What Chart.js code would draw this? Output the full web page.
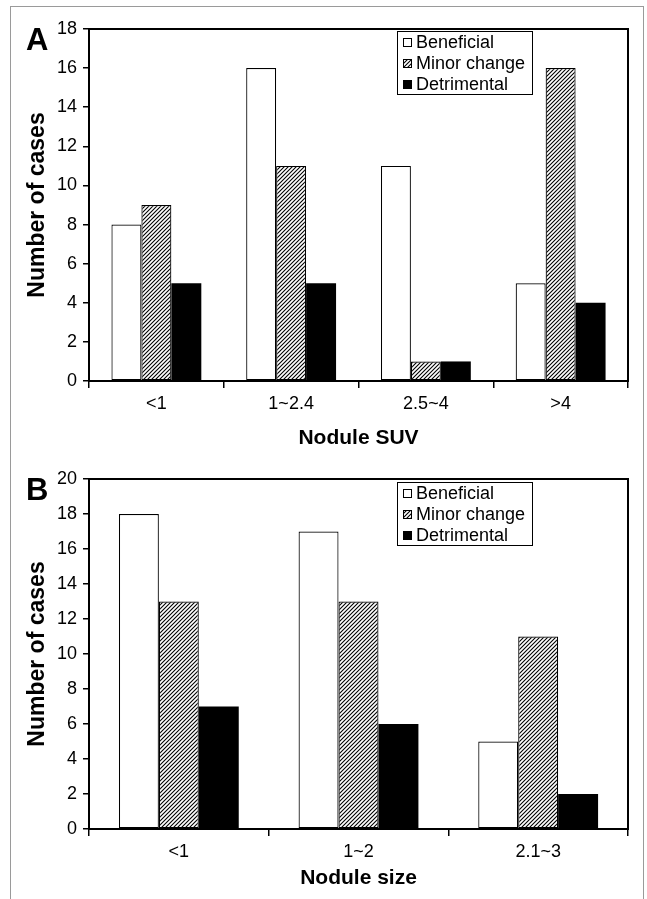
<!DOCTYPE html>
<html lang="en">
<head>
    <meta charset="UTF-8">
    <title>Nodule SUV and nodule size</title>
    <script src="https://cdn.jsdelivr.net/npm/chart.js"></script>
    <style>
        body {
            margin: 0;
            width: 647px;
            height: 899px;
            overflow: hidden;
            position: relative;
            background: #fff;
        }
        .frame {
            position: absolute;
            left: 10px;
            top: 6px;
            width: 632px;
            height: 900px;
            border: 1.5px solid #9a9a9a;
            border-bottom: none;
        }
        canvas {
            position: absolute;
            left: 0;
        }
        #chartA { top: 7px; }
        #chartB { top: 457px; }
    </style>
</head>
<body>
    <div class="frame"></div>
    <canvas id="chartA" width="647" height="444"></canvas>
    <canvas id="chartB" width="647" height="440"></canvas>

    <script>
        // series names shared by both panels
        const seriesNames = ['Beneficial', 'Minor change', 'Detrimental'];

        // panel A - nodule SUV
        const suvLabels = ['<1', '1~2.4', '2.5~4', '>4'];
        const suvBeneficial = [8, 16, 11, 5];
        const suvMinor = [9, 11, 1, 16];
        const suvDetrimental = [5, 5, 1, 4];
        const suvMax = 18;

        // panel B - nodule size
        const sizeLabels = ['<1', '1~2', '2.1~3'];
        const sizeBeneficial = [18, 17, 5];
        const sizeMinor = [13, 13, 11];
        const sizeDetrimental = [7, 6, 2];
        const sizeMax = 20;

        const tickStep = 2;

        function makeHatch() {
            const s = 4;
            const c = document.createElement('canvas');
            c.width = s;
            c.height = s;
            const g = c.getContext('2d');
            g.fillStyle = '#fff';
            g.fillRect(0, 0, s, s);
            g.strokeStyle = '#000';
            g.lineWidth = 1.1;
            g.beginPath();
            g.moveTo(-1, s + 1); g.lineTo(s + 1, -1);
            g.moveTo(-1, 1); g.lineTo(1, -1);
            g.moveTo(s - 1, s + 1); g.lineTo(s + 1, s - 1);
            g.stroke();
            return g.createPattern(c, 'repeat');
        }

        // box round the plot area, panel letter and the legend box
        const panelPlugin = {
            id: 'panel',
            afterDraw(chart, args, opts) {
                const ctx = chart.ctx;
                const a = chart.chartArea;
                ctx.save();
                ctx.strokeStyle = '#000';
                ctx.lineWidth = 2;
                ctx.strokeRect(a.left, a.top, a.right - a.left, a.bottom - a.top);

                ctx.fillStyle = '#000';
                ctx.font = 'bold 31px Arial';
                ctx.textBaseline = 'alphabetic';
                ctx.textAlign = 'left';
                ctx.fillText(opts.letter, 26, a.top + 21);

                const boxLeft = 397, boxRight = 532, boxH = 63;
                const boxTop = a.top + opts.legendOffset;
                ctx.fillStyle = '#fff';
                ctx.fillRect(boxLeft, boxTop, boxRight - boxLeft, boxH);
                ctx.lineWidth = 1;
                ctx.strokeRect(boxLeft + 0.5, boxTop + 0.5, boxRight - boxLeft, boxH);

                ctx.font = '18px Arial';
                ctx.textBaseline = 'middle';
                chart.data.datasets.forEach((ds, i) => {
                    const cy = boxTop + 11 + 21 * i;
                    ctx.fillStyle = ds.backgroundColor;
                    ctx.fillRect(403, cy - 4, 9, 9);
                    ctx.strokeStyle = '#000';
                    ctx.strokeRect(403.5, cy - 3.5, 8, 8);
                    ctx.fillStyle = '#000';
                    ctx.fillText(ds.label, 416, cy + 1);
                });
                ctx.restore();
            }
        };

        function makeChart(id, labels, values, yMax, xTitle, letter, xHeight, titleBottom, legendOffset) {
            const hatch = makeHatch();
            const fills = ['#fff', hatch, '#000'];
            return new Chart(document.getElementById(id), {
                type: 'bar',
                data: {
                    labels: labels,
                    datasets: values.map((v, i) => ({
                        label: seriesNames[i],
                        data: v,
                        backgroundColor: fills[i],
                        borderColor: '#000',
                        borderWidth: i === 2 ? 0 : 1.2,
                        borderSkipped: false,
                        categoryPercentage: 0.667,
                        barPercentage: 1
                    }))
                },
                options: {
                    responsive: false,
                    animation: false,
                    devicePixelRatio: 1,
                    layout: { padding: { left: 20, right: 19, top: 22, bottom: 0 } },
                    plugins: {
                        legend: { display: false },
                        tooltip: { enabled: false },
                        panel: { letter: letter, legendOffset: legendOffset }
                    },
                    scales: {
                        x: {
                            grid: { display: true, drawOnChartArea: false, drawTicks: true, tickLength: 7, color: '#000', lineWidth: 1.5, offset: true },
                            border: { display: true, color: '#000', width: 2 },
                            ticks: { color: '#000', font: { family: 'Arial', size: 18 }, padding: 5, maxRotation: 0 },
                            title: {
                                display: true, text: xTitle, color: '#000',
                                font: { family: 'Arial', size: 21, weight: 'bold' },
                                padding: { top: 4, bottom: titleBottom }
                            },
                            afterFit(s) { s.height = xHeight; }
                        },
                        y: {
                            min: 0,
                            max: yMax,
                            grid: { display: true, drawOnChartArea: false, drawTicks: true, tickLength: 6, color: '#000', lineWidth: 1.5 },
                            border: { display: true, color: '#000', width: 2 },
                            ticks: { stepSize: tickStep, color: '#000', font: { family: 'Arial', size: 18 }, padding: 6 },
                            title: {
                                display: true, text: 'Number of cases', color: '#000',
                                font: { family: 'Arial', size: 23, weight: 'bold' },
                                padding: { top: 4, bottom: 4 }
                            },
                            afterFit(s) { s.width = 69; }
                        }
                    }
                },
                plugins: [panelPlugin]
            });
        }

        makeChart('chartA', suvLabels, [suvBeneficial, suvMinor, suvDetrimental], suvMax,
            'Nodule SUV', 'A', 70, 0, 2);
        makeChart('chartB', sizeLabels, [sizeBeneficial, sizeMinor, sizeDetrimental], sizeMax,
            'Nodule size', 'B', 68, 6, 3);
    </script>
</body>
</html>
